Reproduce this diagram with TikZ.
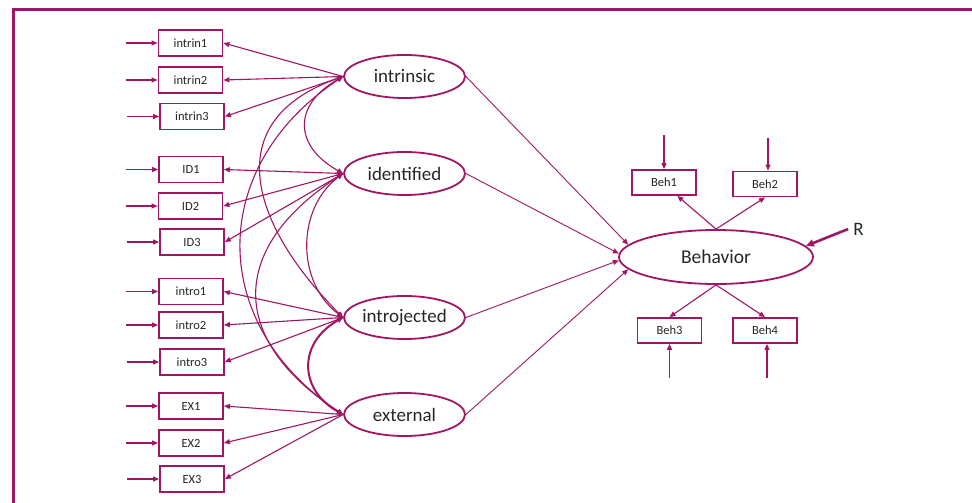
\documentclass[tikz,border=0pt]{standalone}
\usepackage{fontspec}
\setmainfont{Carlito}
\usetikzlibrary{arrows.meta,shapes.geometric}
\definecolor{plum}{RGB}{160,22,98}
\definecolor{ink}{RGB}{38,38,38}

\begin{document}
\begin{tikzpicture}[x=1pt,y=-1pt,
  every node/.style={text=ink},
  ind/.style={draw=plum, line width=1.8pt, minimum width=64pt, minimum height=26pt,
              inner sep=0pt, font=\fontsize{12.5}{14}\selectfont},
  behbox/.style={ind, minimum height=25pt},
  lat/.style={ellipse, draw=plum, line width=1.8pt, minimum width=121pt,
              minimum height=43pt, inner sep=0pt, font=\fontsize{19}{22}\selectfont},
  head/.style={-{Triangle[length=6pt,width=5pt]}},
  conn/.style={plum, line width=1.1pt, head},
  path/.style={plum, line width=0.9pt, head},
  cov/.style={plum, line width=1.1pt,
              {Triangle[length=6pt,width=5pt]}-{Triangle[length=6pt,width=5pt]}},
]
\useasboundingbox (0,0) rectangle (972,503);

% outer frame (top and left edges)
\draw[plum, line width=3pt] (13.5,503) -- (13.5,9.5) -- (972,9.5);

% indicators of the motivation factors
\node[ind] (intrin1) at (190.5,43)  {intrin1};
\node[ind] (intrin2) at (190.5,80)  {intrin2};
\node[ind] (intrin3) at (192,116.5) {intrin3};
\node[ind] (id1)     at (191,169.5) {ID1};
\node[ind] (id2)     at (190.5,206) {ID2};
\node[ind] (id3)     at (192,242)   {ID3};
\node[ind] (intro1)  at (191,291.5) {intro1};
\node[ind] (intro2)  at (191,325)   {intro2};
\node[ind] (intro3)  at (192,362)   {intro3};
\node[ind] (ex1)     at (191,406)   {EX1};
\node[ind] (ex2)     at (191,443)   {EX2};
\node[ind] (ex3)     at (192,479)   {EX3};

% latent factors
\node[lat] (intrinsic)   at (404.5,76.5)  {intrinsic};
\node[lat] (identified)  at (404.5,173.5) {identified};
\node[lat] (introjected) at (404.5,317.5) {introjected};
\node[lat] (external)    at (404.5,414.5) {external};

% outcome factor and its indicators
\node[lat, minimum width=194pt, minimum height=54pt, font=\fontsize{19.5}{22}\selectfont]
  (behavior) at (716,257) {Behavior};
\node[behbox] (beh1) at (664,182.5) {Beh1};
\node[behbox] (beh2) at (765,184)   {Beh2};
\node[behbox] (beh3) at (669.5,330.5) {Beh3};
\node[behbox] (beh4) at (765,330.5) {Beh4};

\node[font=\fontsize{19}{22}\selectfont, inner xsep=5pt, inner ysep=0pt] (R) at (858.5,229) {R};

% measurement errors on the left indicators
\foreach \b in {intrin1,intrin2,intrin3,id1,id2,id3,intro1,intro2,intro3,ex1,ex2,ex3}
  \draw[conn] ([xshift=-32pt]\b.west) -- (\b.west);

% loadings
\foreach \f/\a/\b/\c in {intrinsic/intrin1/intrin2/intrin3,
                         identified/id1/id2/id3,
                         introjected/intro1/intro2/intro3,
                         external/ex1/ex2/ex3}{
  \draw[conn] (\f.west) -- (\a.east);
  \draw[conn] (\f.west) -- (\b.east);
  \draw[conn] (\f.west) -- (\c.east);
}

% factor covariances
\draw[cov] (intrinsic.west) .. controls +(-50,28) and +(-50,-28) .. (identified.west);
\draw[cov] (identified.west) .. controls +(-47,35) and +(-47,-35) .. (introjected.west);
\draw[cov, line width=2pt] (introjected.west) .. controls +(-45,25) and +(-45,-25) .. (external.west);
\draw[cov] (intrinsic.west) .. controls +(-128,45) and +(-90,-90) .. (introjected.west);
\draw[cov] (identified.west) .. controls +(-115,75) and +(-115,-75) .. (external.west);
\draw[cov] (intrinsic.west) .. controls +(-136,90) and +(-136,-90) .. (external.west);

% structural paths
\draw[path] (intrinsic.east)   -- (behavior.172);
\draw[path] (identified.east)  -- (behavior.178);
\draw[path] (introjected.east) -- (behavior.182);
\draw[path] (external.east)    -- (behavior.188);

% behaviour indicators
\draw[conn] (behavior.north) -- (beh1.-45);
\draw[conn] (behavior.north) -- (beh2.south);
\draw[conn] (behavior.south) -- (beh3.north);
\draw[conn] (behavior.south) -- (beh4.north);

\draw[conn] ([yshift=34pt]beh1.north) -- (beh1.north);
\draw[conn] ([xshift=3pt,yshift=33pt]beh2.north) -- ([xshift=3pt]beh2.north);
\draw[conn] ([yshift=-34pt]beh3.south) -- (beh3.south);
\draw[conn] ([xshift=2pt,yshift=-34pt]beh4.south) -- ([xshift=2pt]beh4.south);

% disturbance
\draw[plum, line width=2.6pt, -{Triangle[length=8pt,width=7pt]}] (R.west) -- (behavior.7);
\end{tikzpicture}
\end{document}
